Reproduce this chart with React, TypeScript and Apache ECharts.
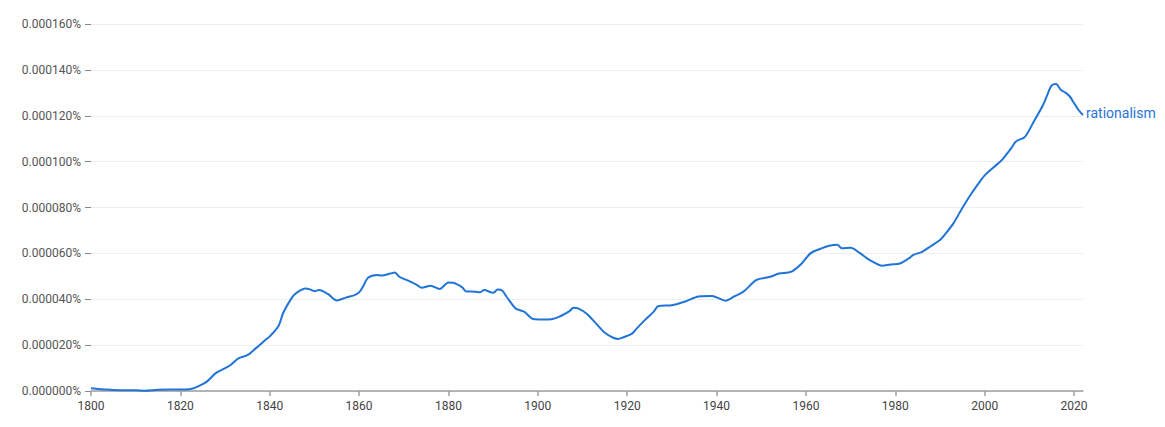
import React, { useEffect, useRef } from "react";
import * as echarts from "echarts";

// Frequency values in millionths of a percent (e.g. 20 => 0.000020%)
const years = [
  1800, 1803, 1805, 1808, 1810, 1812, 1815, 1818, 1821, 1823, 1825, 1826, 1828, 1831, 1833, 1835, 1837, 1839,
  1840, 1842, 1843, 1845, 1846, 1848, 1849, 1850, 1851, 1853, 1855, 1857, 1859, 1860, 1861, 1862, 1864, 1865,
  1867, 1868, 1869, 1871, 1873, 1874, 1876, 1878, 1880, 1881, 1883, 1884, 1886, 1887, 1888, 1890, 1891, 1892,
  1893, 1895, 1896, 1897, 1899, 1901, 1903, 1905, 1907, 1908, 1909, 1911, 1913, 1915, 1917, 1918, 1919, 1921,
  1922, 1924, 1926, 1927, 1930, 1933, 1936, 1939, 1940, 1942, 1944, 1946, 1948, 1949, 1952, 1954, 1956, 1957,
  1959, 1961, 1963, 1965, 1967, 1968, 1970, 1972, 1974, 1975, 1977, 1979, 1981, 1983, 1984, 1986, 1988, 1990,
  1991, 1993, 1995, 1997, 1999, 2000, 2002, 2004, 2005, 2006, 2007, 2009, 2011, 2013, 2014, 2015, 2016, 2017,
  2018, 2019, 2020, 2021, 2022,
];
const rationalism = [
  1.2, 0.7, 0.4, 0.3, 0.3, 0.1, 0.5, 0.6, 0.6, 1.2, 3.0, 4.2, 7.9, 11.0, 14.2, 15.6, 18.8, 22.2,
  23.8, 28.5, 34, 40.8, 42.8, 44.7, 44.3, 43.5, 44, 42.3, 39.5, 40.7, 41.8, 43, 46, 49.4, 50.6, 50.3,
  51.2, 51.7, 49.8, 48.1, 46.2, 45, 45.9, 44.5, 47.3, 47.2, 45.3, 43.4, 43.3, 43, 44, 42.8, 44.2, 43.8,
  41.1, 36.0, 35.2, 34.5, 31.4, 31.2, 31.3, 32.6, 34.7, 36.3, 36, 33.6, 29.5, 25.4, 23.1, 22.7, 23.3, 24.9,
  27, 31, 34.7, 37.1, 37.4, 39, 41.2, 41.4, 40.8, 39.4, 41.3, 43.3, 47, 48.5, 49.8, 51.2, 51.7, 52.3,
  55.5, 60, 61.8, 63.2, 63.8, 62.2, 62.5, 60.2, 57.4, 56.3, 54.6, 55.2, 55.6, 57.8, 59.3, 60.7, 63.2, 65.8,
  68, 73.1, 79.8, 86, 91.5, 94, 97.5, 101, 103.5, 106, 108.8, 110.8, 117.5, 124.5, 129, 133.2, 133.8, 131.3,
  130.2, 128.5, 125.5, 122.5, 120.3,
];
const xTicks = [1800, 1820, 1840, 1860, 1880, 1900, 1920, 1940, 1960, 1980, 2000, 2020];
const seriesName = "rationalism";

export default function App() {
  const ref = useRef<HTMLDivElement>(null);
  useEffect(() => {
    if (!ref.current) return;
    const chart = echarts.init(ref.current, undefined, { renderer: "svg" });
    const lineColor = "#1f74d6";
    chart.setOption({
      animation: false,
      grid: { left: 91, right: 82, top: 24, bottom: 36, containLabel: false },
      xAxis: {
        type: "value",
        min: 1800,
        max: 2022,
        interval: 20,
        axisLine: { show: true, lineStyle: { color: "#9e9e9e", width: 1.5 } },
        axisTick: {
          show: true,
          length: 5,
          lineStyle: { color: "#9e9e9e", width: 1.5 },
          customValues: xTicks,
        },
        axisLabel: {
          customValues: xTicks,
          color: "#444",
          fontFamily: "Roboto",
          fontSize: 12,
          margin: 9,
          formatter: (v: number) => String(v),
        },
        splitLine: { show: false },
      },
      yAxis: {
        type: "value",
        min: 0,
        max: 160,
        interval: 20,
        axisLine: { show: false },
        axisTick: { show: true, length: 6, lineStyle: { color: "#888", width: 1 } },
        axisLabel: {
          color: "#555",
          fontFamily: "Roboto",
          fontSize: 12,
          margin: 10,
          formatter: (v: number) => (v / 1e6).toFixed(6) + "%",
        },
        splitLine: { show: true, lineStyle: { color: "#eeeeee", width: 1 } },
      },
      series: [
        {
          name: seriesName,
          type: "line",
          data: years.map((y, i) => [y, rationalism[i]]),
          showSymbol: false,
          smooth: 0.3,
          lineStyle: { color: lineColor, width: 2 },
          itemStyle: { color: lineColor },
          endLabel: {
            show: true,
            formatter: seriesName,
            color: lineColor,
            fontFamily: "Roboto",
            fontSize: 14,
            distance: 3,
            offset: [0, -2],
          },
        },
      ],
    });
    return () => chart.dispose();
  }, []);
  return <div ref={ref} style={{ width: 1165, height: 427, position: "absolute", left: 0, top: 0 }} />;
}
